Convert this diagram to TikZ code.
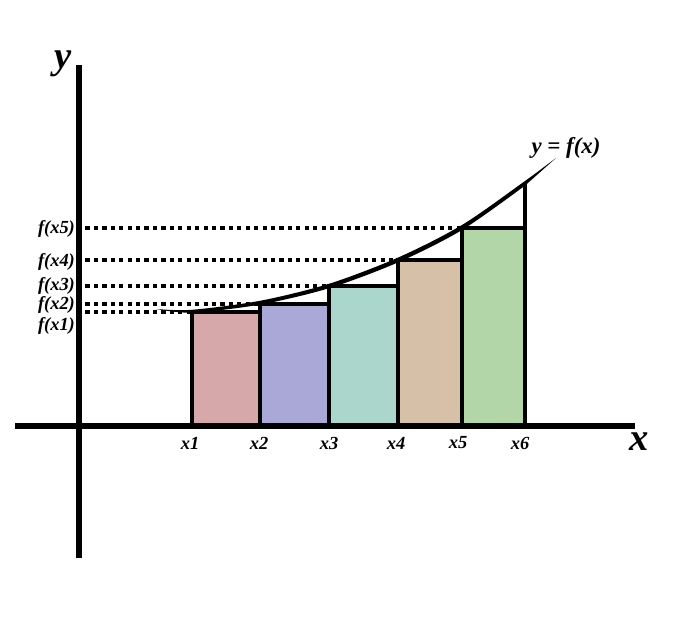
\documentclass[tikz,border=0pt]{standalone}
\usepackage{fontspec}
\setmainfont{Liberation Serif}
\definecolor{barA}{RGB}{214,168,170}
\definecolor{barB}{RGB}{170,168,214}
\definecolor{barC}{RGB}{170,214,204}
\definecolor{barD}{RGB}{214,192,168}
\definecolor{barE}{RGB}{178,214,168}
\begin{document}
\begin{tikzpicture}[x=0.02cm,y=-0.02cm]
      \useasboundingbox (0,0) rectangle (675,641);

      \tikzset{bar/.style={draw,line width=2pt},
               dotline/.style={line width=2pt,dash pattern=on 2.4pt off 2.4pt},
               axis/.style={line width=3pt}}

      % tops of the bars
      \coordinate (t1) at (192,312);
      \coordinate (t2) at (260,304);
      \coordinate (t3) at (329,286);
      \coordinate (t4) at (398,260);
      \coordinate (t5) at (462,228);
      \coordinate (t6) at (525,183);

      \path[bar,fill=barA] (192,426) rectangle (260,312);
      \path[bar,fill=barB] (260,426) rectangle (329,304);
      \path[bar,fill=barC] (329,426) rectangle (398,286);
      \path[bar,fill=barD] (398,426) rectangle (462,260);
      \path[bar,fill=barE] (462,426) rectangle (525,228);
      \draw[bar] (525,228) -- (t6);

      \begin{scope}[every node/.style={font=\bfseries\itshape\fontsize{10.5}{12}\selectfont,inner sep=1pt}]
        \node[anchor=east] (f5) at (77,229) {f(x5)};
        \node[anchor=east] (f4) at (77,262) {f(x4)};
        \node[anchor=east] (f3) at (77,286) {f(x3)};
        \node[anchor=east] (f2) at (77,305) {f(x2)};
        \node[anchor=east] (f1) at (77,326) {f(x1)};
        \node (x1) at (190,443) {x1};
        \node (x2) at (259,443) {x2};
        \node (x3) at (329,443) {x3};
        \node (x4) at (396,443) {x4};
        \node (x5) at (458,443) {x5};
        \node (x6) at (520,443) {x6};
      \end{scope}

      \node[font=\bfseries\itshape\fontsize{13}{15}\selectfont] (fx) at (566,148) {y = f(x)};
      \node[font=\bfseries\itshape\fontsize{22}{24}\selectfont] (xl) at (639,442) {x};
      \node[font=\bfseries\itshape\fontsize{22}{24}\selectfont] (yl) at (63,64) {y};

      \draw[dotline] (t5 -| f5.east) -- (t5);
      \draw[dotline] (t4 -| f4.east) -- (t4);
      \draw[dotline] (t3 -| f3.east) -- (t3);
      \draw[dotline] (t2 -| f2.east) -- (t2);
      \draw[dotline] (t1 -| f1.east) -- (t1);

      % the curve, thin at both ends
      \fill plot[smooth] coordinates {(156,309) (192,309.8) (260,300.8) (329,283.8) (398,257.6) (462,225) (525,181) (556,158)}
         -- plot[smooth] coordinates {(525,185.6) (462,230) (398,262.4) (329,288.2) (260,304.6) (192,312.6) (156,309)} -- cycle;

      \draw[axis] (15,426) -- (635,426);
      \draw[axis] (79,65) -- (79,558);

    \end{tikzpicture}
\end{document}
